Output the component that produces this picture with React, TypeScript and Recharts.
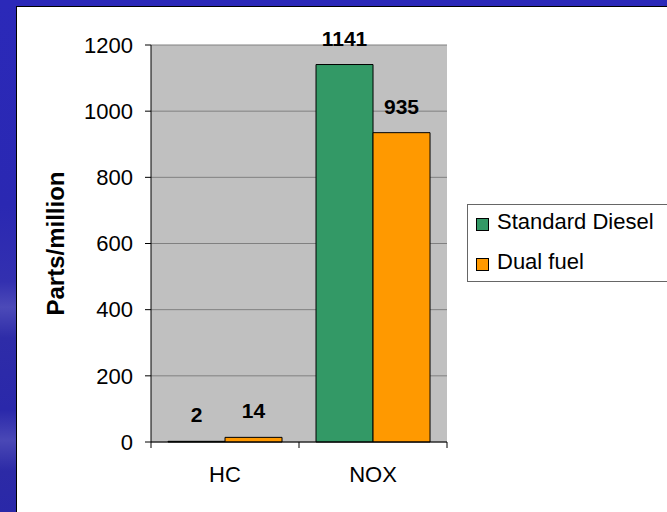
import React from "react";
import { BarChart, Bar, XAxis, YAxis, CartesianGrid, Legend, LabelList } from "recharts";

const categories = ["HC", "NOX"];
const standardDiesel = [2, 1141];
const dualFuel = [14, 935];
const yTicks = [0, 200, 400, 600, 800, 1000, 1200];
const seriesNames = ["Standard Diesel", "Dual fuel"];

const data = categories.map((name, i) => ({
  name,
  standard: standardDiesel[i],
  dual: dualFuel[i],
}));

const FONT = "'Liberation Sans', Arial, sans-serif";
const X_TICK_MARGIN = 24;

// category labels sit in the middle, tick marks go on the band edges
const CategoryTick = (props: any) => {
  const { x, y, payload, index, visibleTicksCount } = props;
  const half = payload?.offset ?? 74;
  const axisY = y - X_TICK_MARGIN;
  const isLast = index === visibleTicksCount - 1;
  return (
    <g>
      <line x1={x - half} x2={x - half} y1={axisY} y2={axisY + 6} stroke="#000" />
      {isLast && <line x1={x + half} x2={x + half} y1={axisY} y2={axisY + 6} stroke="#000" />}
      <text x={x} y={y} dy="0.716em" textAnchor="middle" fontSize={22} fontFamily={FONT} fill="#000">
        {payload.value}
      </text>
    </g>
  );
};

const renderLegend = (props: any) => {
  const items = [...(props.payload || [])].sort(
    (a: any, b: any) => seriesNames.indexOf(a.value) - seriesNames.indexOf(b.value)
  );
  return (
    <div
      style={{
        border: "1px solid #666",
        background: "#fff",
        width: 240,
        height: 78,
        boxSizing: "border-box",
        paddingTop: 4,
        fontFamily: FONT,
        fontSize: 22,
        color: "#000",
      }}
    >
      {items.map((item: any, i: number) => (
        <div
          key={item.value}
          style={{ display: "flex", alignItems: "center", height: 26, marginTop: i === 0 ? 0 : 14, whiteSpace: "nowrap" }}
        >
          <span
            style={{
              display: "inline-block",
              width: 13,
              height: 13,
              boxSizing: "border-box",
              border: "1px solid #000",
              background: item.color,
              marginLeft: 8,
              marginRight: 8,
              marginTop: 4,
            }}
          />
          <span>{item.value}</span>
        </div>
      ))}
    </div>
  );
};

export default function App() {
  return (
    <div
      style={{
        position: "fixed",
        left: 0,
        top: 0,
        width: 667,
        height: 512,
        overflow: "hidden",
        background:
          "linear-gradient(to bottom, #2b29b9 0%, #2a28b2 40%, #3330b0 55%, #4c4ab8 60%, #2e2ca8 66%, #2a28aa 80%, #4a48b6 86%, #2c2aa6 92%, #2a28a8 100%)",
      }}
    >
      <div
        style={{
          position: "absolute",
          left: 16,
          top: 6,
          width: 700,
          height: 560,
          background: "#fff",
          borderLeft: "1px solid #000",
          borderTop: "1px solid #000",
        }}
      />
      <div style={{ position: "absolute", left: 0, top: 0 }}>
        <BarChart
          width={667}
          height={512}
          data={data}
          margin={{ top: 45, right: 220, bottom: 0, left: 0 }}
          barGap={0}
          barCategoryGap="11.5%"
        >
          <CartesianGrid fill="#c0c0c0" stroke="#808080" vertical={false} strokeOpacity={1} />
          <XAxis
            dataKey="name"
            height={70}
            axisLine={{ stroke: "#000" }}
            tickLine={false}
            tickSize={0}
            tickMargin={X_TICK_MARGIN}
            tick={<CategoryTick />}
            interval={0}
          />
          <YAxis
            width={151}
            domain={[0, 1200]}
            ticks={yTicks}
            interval={0}
            axisLine={{ stroke: "#000" }}
            tickLine={{ stroke: "#000" }}
            tickSize={6}
            tickMargin={12}
            tick={{ fontSize: 22, fill: "#000", fontFamily: FONT }}
            label={{
              value: "Parts/million",
              angle: -90,
              position: "insideLeft",
              offset: 55,
              style: { textAnchor: "middle", fontWeight: "bold", fontSize: 24, fill: "#000", fontFamily: FONT },
            }}
          />
          <Legend
            layout="vertical"
            align="center"
            verticalAlign="middle"
            itemSorter={null as any}
            wrapperStyle={{ left: 467, top: 204, width: 240 }}
            content={renderLegend}
          />
          <Bar dataKey="standard" name={seriesNames[0]} fill="#339966" stroke="#000" strokeWidth={1} isAnimationActive={false}>
            <LabelList dataKey="standard" position="top" offset={19} style={{ fontWeight: "bold", fontSize: 21, fill: "#000", fontFamily: FONT }} />
          </Bar>
          <Bar dataKey="dual" name={seriesNames[1]} fill="#ff9900" stroke="#000" strokeWidth={1} isAnimationActive={false}>
            <LabelList dataKey="dual" position="top" offset={19} style={{ fontWeight: "bold", fontSize: 21, fill: "#000", fontFamily: FONT }} />
          </Bar>
        </BarChart>
      </div>
    </div>
  );
}
